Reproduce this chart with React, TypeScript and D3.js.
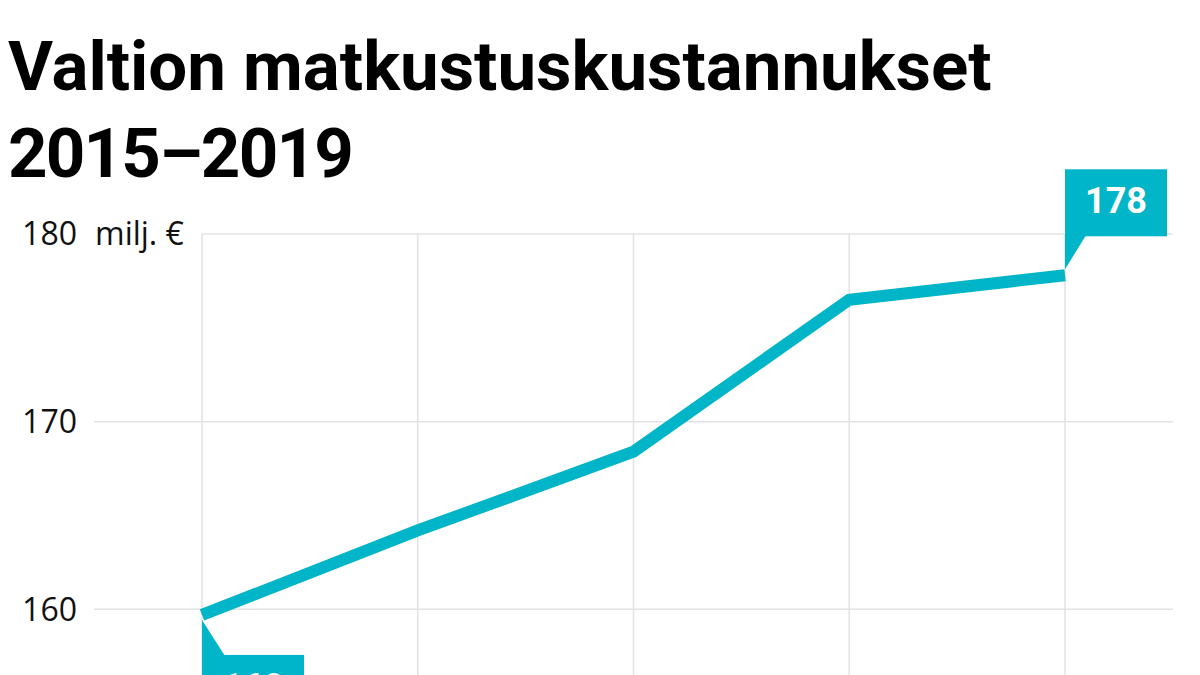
import React from 'react';
import * as d3 from 'd3';

// data (milj. €)
const years = [2015, 2016, 2017, 2018, 2019];
const costs = [159.7, 164.2, 168.4, 176.5, 177.8];
const yTicks = [160, 170, 180];
const titleLines = ['Valtion matkustuskustannukset', '2015–2019'];
const unitLabel = 'milj. €';

const W = 1200;
const H = 675;
const TEAL = '#00b5c8';
const GRID = '#e2e2e2';

export default function App() {
  const x = d3.scalePoint<number>().domain(years).range([202, 1065]);
  const y = d3.scaleLinear().domain([160, 180]).range([609.3, 234]);

  const line = d3
    .line<number>()
    .x((_, i) => x(years[i]) as number)
    .y(d => y(d));

  const first = { x: x(years[0]) as number, y: y(costs[0]) };
  const last = { x: x(years[years.length - 1]) as number, y: y(costs[costs.length - 1]) };
  const boxW = 102;
  const boxH = 67;

  return (
    <svg
      width={W}
      height={H}
      style={{ position: 'absolute', left: 0, top: 0, background: '#fff' }}
    >
      <rect width={W} height={H} fill="#fff" />

      {/* title */}
      {titleLines.map((t, i) => (
        <text
          key={t}
          x={8}
          y={90 + i * 87}
          fontFamily="Roboto"
          fontWeight={700}
          fontSize={69}
          letterSpacing={i === 1 ? -1.8 : 0}
          fill="#000"
        >
          {t}
        </text>
      ))}

      {/* vertical grid */}
      {years.map(yr => (
        <line
          key={yr}
          x1={x(yr)}
          x2={x(yr)}
          y1={y(180)}
          y2={H}
          stroke={GRID}
          strokeWidth={1.5}
        />
      ))}

      {/* horizontal grid + tick labels */}
      {yTicks.map(t => (
        <g key={t}>
          <line
            x1={t === 180 ? 202 : 94}
            x2={1173}
            y1={y(t)}
            y2={y(t)}
            stroke={GRID}
            strokeWidth={1.5}
          />
          <text
            x={77}
            y={y(t)}
            dy="0.35em"
            textAnchor="end"
            fontFamily="Open Sans"
            fontSize={32}
            fill="#111"
          >
            {t}
          </text>
        </g>
      ))}
      <text x={95} y={y(180)} dy="0.35em" fontFamily="Open Sans" fontSize={32} fill="#111">
        {unitLabel}
      </text>

      {/* line */}
      <path
        d={line(costs) ?? ''}
        fill="none"
        stroke={TEAL}
        strokeWidth={12}
        strokeLinejoin="miter"
        strokeLinecap="butt"
      />

      {/* last value label (above) */}
      <g>
        <rect x={last.x} y={last.y - 106} width={boxW} height={boxH} fill={TEAL} />
        <path
          d={`M${last.x},${last.y - 40} L${last.x + 21},${last.y - 40} L${last.x},${last.y - 6} Z`}
          fill={TEAL}
        />
        <text
          x={last.x + boxW / 2}
          y={last.y - 62}
          textAnchor="middle"
          fontFamily="Roboto"
          fontWeight={700}
          fontSize={36}
          fill="#fff"
        >
          {Math.round(costs[costs.length - 1])}
        </text>
      </g>

      {/* first value label (below) */}
      <g>
        <rect x={first.x} y={first.y + 40} width={boxW} height={boxH} fill={TEAL} />
        <path
          d={`M${first.x},${first.y + 5} L${first.x + 23},${first.y + 41} L${first.x},${first.y + 41} Z`}
          fill={TEAL}
        />
        <text
          x={first.x + boxW / 2}
          y={first.y + 84}
          textAnchor="middle"
          fontFamily="Roboto"
          fontWeight={700}
          fontSize={36}
          fill="#fff"
        >
          {Math.round(costs[0])}
        </text>
      </g>
    </svg>
  );
}
